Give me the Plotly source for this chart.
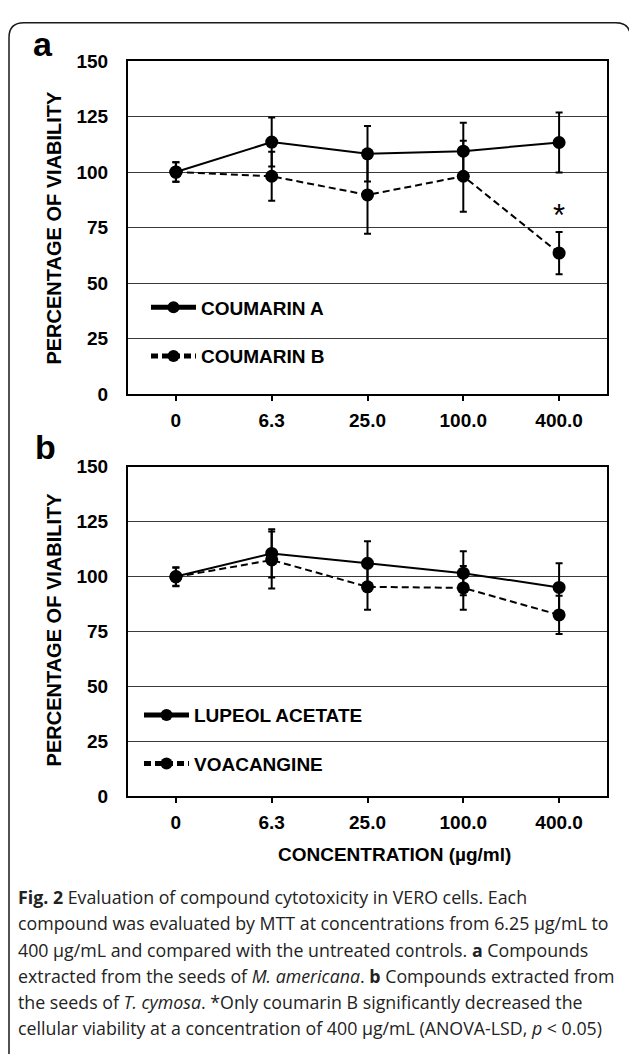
import plotly.graph_objects as go

W, H = 629, 1054

# ---------------- data ----------------
concentrations = ["0", "6.3", "25.0", "100.0", "400.0"]

coumarin_a = [100.0, 113.5, 108.2, 109.4, 113.3]
coumarin_a_err = [4.4, 11.0, 12.5, 12.8, 13.5]
coumarin_b = [100.0, 98.1, 89.7, 98.1, 63.5]
coumarin_b_err = [4.4, 11.0, 17.5, 16.0, 9.5]

lupeol_acetate = [100.0, 110.5, 106.0, 101.5, 95.0]
lupeol_acetate_err = [4.2, 11.0, 10.0, 10.0, 11.0]
voacangine = [99.8, 107.5, 95.3, 94.8, 82.5]
voacangine_err = [4.2, 13.0, 10.5, 10.0, 8.7]

y_ticks = [0, 25, 50, 75, 100, 125, 150]

significant_label = "*"
significant_series = coumarin_b
significant_index = concentrations.index("400.0")

caption_lines = [
    "<b>Fig. 2</b> Evaluation of compound cytotoxicity in VERO cells. Each",
    "compound was evaluated by MTT at concentrations from 6.25 µg/mL to",
    "400 µg/mL and compared with the untreated controls. <b>a</b> Compounds",
    "extracted from the seeds of <i>M. americana</i>. <b>b</b> Compounds extracted from",
    "the seeds of <i>T. cymosa</i>. *Only coumarin B significantly decreased the",
    "cellular viability at a concentration of 400 µg/mL (ANOVA-LSD, <i>p</i> &lt; 0.05)",
]

# ---------------- helpers ----------------
def px(x):
    return x / W

def py(y):
    return 1 - y / H

FONT = "Liberation Sans, Arial, sans-serif"
CAP_FONT = "Open Sans, sans-serif"

fig = go.Figure()

def add_series(xaxis, yaxis, legend, name, vals, errs, dash, group):
    fig.add_trace(go.Scatter(
        x=concentrations, y=vals, name=name, mode="lines+markers",
        xaxis=xaxis, yaxis=yaxis, legend=legend, legendgroup=group,
        line=dict(color="black", width=2, dash=dash),
        marker=dict(color="black", size=13),
        error_y=dict(type="data", array=errs, visible=True, color="black",
                     thickness=2, width=3.5),
    ))

add_series("x", "y", "legend", "COUMARIN A", coumarin_a, coumarin_a_err, "solid", "a1")
add_series("x", "y", "legend", "COUMARIN B", coumarin_b, coumarin_b_err, "7px,4px", "a2")
add_series("x2", "y2", "legend2", "LUPEOL ACETATE", lupeol_acetate, lupeol_acetate_err, "solid", "b1")
add_series("x2", "y2", "legend2", "VOACANGINE", voacangine, voacangine_err, "7px,4px", "b2")

x_dom = [px(128), px(607)]
ya_dom = [py(392), py(52)]
yb_dom = [py(802), py(466)]

xaxis_common = dict(
    type="category", range=[-0.5, 4.5], domain=x_dom,
    showline=True, linecolor="black", linewidth=2, mirror=True,
    ticks="outside", ticklen=5, tickwidth=2, tickcolor="black",
    tickfont=dict(family=FONT, size=19, color="black", weight="bold"),
    ticklabelstandoff=3, showgrid=False, zeroline=False, fixedrange=True,
)
yaxis_common = dict(
    range=[0, 150], tickvals=y_ticks,
    showline=True, linecolor="black", linewidth=2, mirror=True,
    ticks="", showgrid=True, gridcolor="#3a3a3a", gridwidth=1.3,
    zeroline=False,
    tickfont=dict(family=FONT, size=19, color="black", weight="bold"),
    ticklabelstandoff=14, fixedrange=True,
)

legend_common = dict(
    bgcolor="rgba(0,0,0,0)", borderwidth=0,
    font=dict(family=FONT, size=19, color="black", weight="bold"),
    xanchor="left", yanchor="top", traceorder="grouped", tracegroupgap=21,
    itemwidth=45, itemsizing="constant",
    itemclick=False, itemdoubleclick=False,
)

annotations = []
ytitle_font = dict(family=FONT, size=20, color="black", weight="bold")
for yc in (222, 632):
    annotations.append(dict(text="PERCENTAGE OF VIABILITY", x=px(54), y=py(yc),
                            xref="paper", yref="paper", textangle=-90,
                            xanchor="center", yanchor="middle",
                            showarrow=False, font=ytitle_font))
annotations.append(dict(text="<b>a</b>", x=px(43), y=py(35), xref="paper", yref="paper",
                        xanchor="center", yanchor="middle",
                        showarrow=False, font=dict(family=FONT, size=34, color="black")))
annotations.append(dict(text="<b>b</b>", x=px(45), y=py(446), xref="paper", yref="paper",
                        xanchor="center", yanchor="middle",
                        showarrow=False, font=dict(family=FONT, size=34, color="black")))
annotations.append(dict(text="<b>CONCENTRATION (µg/ml)</b>", x=px(394), y=py(862),
                        xref="paper", yref="paper", xanchor="center", yanchor="middle",
                        showarrow=False,
                        font=dict(family=FONT, size=19, color="black")))
# significance marker on coumarin B at 400
annotations.append(dict(text=significant_label, x=significant_index,
                        y=significant_series[significant_index] + 17,
                        xref="x", yref="y", xanchor="center", yanchor="middle",
                        showarrow=False,
                        font=dict(family=FONT, size=31, color="black")))

cap_y0, cap_dy = 905, 26.8
for i, line in enumerate(caption_lines):
    annotations.append(dict(text=line, x=px(16), y=py(cap_y0 + i * cap_dy),
                            xref="paper", yref="paper", xanchor="left", yanchor="middle",
                            showarrow=False, align="left",
                            font=dict(family=CAP_FONT, size=17.8, color="#222222")))

# outer rounded frame (decoration)
r = 15
x0, x1, y0, y1 = 9, 630.5, 13, 1070
path = (f"M {px(x0)},{py(y1)} L {px(x0)},{py(y0 + r)} "
        f"Q {px(x0)},{py(y0)} {px(x0 + r)},{py(y0)} "
        f"L {px(x1 - r)},{py(y0)} Q {px(x1)},{py(y0)} {px(x1)},{py(y0 + r)} "
        f"L {px(x1)},{py(y1)}")

fig.update_layout(
    width=W, height=H, margin=dict(l=0, r=0, t=0, b=0),
    paper_bgcolor="white", plot_bgcolor="white",
    xaxis=dict(**xaxis_common, anchor="y"),
    yaxis=dict(**yaxis_common, domain=ya_dom, anchor="x"),
    xaxis2=dict(**xaxis_common, anchor="y2"),
    yaxis2=dict(**yaxis_common, domain=yb_dom, anchor="x2"),
    legend=dict(**legend_common, x=px(146), y=py(284)),
    legend2=dict(**legend_common, x=px(139), y=py(700)),
    annotations=annotations,
    shapes=[dict(type="path", path=path, xref="paper", yref="paper",
                 line=dict(color="#1a1a1a", width=1.5), layer="above")],
    showlegend=True,
)

fig.write_html("out.html", config={"displayModeBar": False})
